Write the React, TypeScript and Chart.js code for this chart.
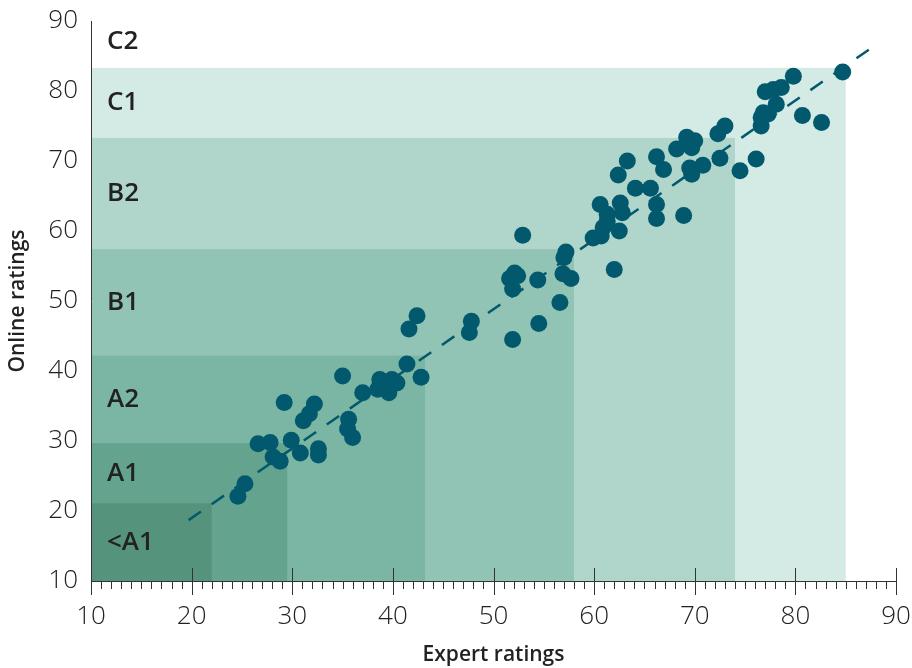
import React, { useEffect, useRef } from "react";
import { Chart, registerables } from "chart.js";

Chart.register(...registerables);

const expertRatings = [
  24.6, 25.3, 26.6, 27.8, 28.1, 28.8, 29.2, 29.9, 30.8, 32.6, 32.6, 31.1, 31.7, 32.2,
  35.0, 35.6, 35.5, 36.0, 37.0, 38.5, 38.7, 39.6, 39.9, 40.4, 41.4, 42.8, 42.4, 41.6,
  47.8, 47.6, 51.9, 54.5, 56.6, 52.9, 52.1, 51.6, 52.4, 51.9, 54.4, 57.2, 57.0, 56.9,
  57.7, 59.9, 62.0, 60.7, 60.9, 61.3, 61.3, 60.6, 62.6, 62.8, 62.5, 62.4, 63.3, 64.1,
  65.6, 66.2, 66.2, 66.2, 66.9, 68.9, 68.2, 69.2, 70.0, 69.7, 69.5, 69.7, 70.8, 72.5,
  72.3, 73.0, 74.5, 76.1, 76.6, 76.6, 77.0, 77.8, 78.6, 79.8, 78.1, 76.8, 77.3, 80.7,
  82.6, 84.7,
];
const onlineRatings = [
  22.1, 23.9, 29.6, 29.8, 27.7, 27.1, 35.5, 30.1, 28.3, 28.9, 28.0, 32.9, 33.9, 35.3,
  39.3, 33.1, 31.7, 30.5, 36.9, 37.4, 38.8, 36.9, 38.8, 38.3, 41.0, 39.1, 47.9, 46.0,
  47.1, 45.5, 44.5, 46.8, 49.8, 59.4, 54.0, 53.2, 53.6, 51.7, 53.0, 57.0, 56.2, 53.9,
  53.2, 59.0, 54.5, 59.3, 60.5, 61.4, 62.4, 63.8, 64.0, 62.6, 60.0, 68.0, 70.0, 66.1,
  66.1, 63.8, 61.8, 70.6, 68.8, 62.2, 71.7, 73.4, 72.9, 71.9, 69.0, 68.1, 69.4, 70.4,
  73.9, 75.0, 68.6, 70.3, 75.0, 76.2, 79.9, 80.2, 80.5, 82.1, 78.1, 76.9, 76.7, 76.5,
  75.5, 82.7,
];

const trendX = [19.7, 87.4];
const trendY = [18.7, 86.0];

const levelNames = ["<A1", "A1", "A2", "B1", "B2", "C1", "C2"];
const expertCuts = [22.0, 29.5, 43.2, 58.0, 74.0, 85.0];
const onlineCuts = [21.1, 29.7, 42.2, 57.4, 73.3, 83.3];
const bandColors = ["#55937c", "#64a48e", "#7ab6a3", "#91c4b4", "#b0d6cc", "#d4eae5"];

const axisTicks = [10, 20, 30, 40, 50, 60, 70, 80, 90];

const AXIS_MIN = 10;
const AXIS_MAX = 90;
const FONT = "'Open Sans', 'DejaVu Sans', sans-serif";

const bandsPlugin = {
  id: "bands",
  beforeDraw(chart: any) {
    const { ctx } = chart;
    const xs = chart.scales.x;
    const ys = chart.scales.y;
    const x0 = xs.getPixelForValue(AXIS_MIN);
    const y0 = ys.getPixelForValue(AXIS_MIN);
    ctx.save();
    for (let i = expertCuts.length - 1; i >= 0; i--) {
      const x1 = xs.getPixelForValue(expertCuts[i]);
      const y1 = ys.getPixelForValue(onlineCuts[i]);
      ctx.fillStyle = bandColors[i];
      ctx.fillRect(x0, y1, x1 - x0, y0 - y1);
    }
    ctx.fillStyle = "#222222";
    ctx.font = `600 26px ${FONT}`;
    ctx.textAlign = "left";
    ctx.textBaseline = "middle";
    for (let i = 0; i < levelNames.length; i++) {
      const lo = i === 0 ? AXIS_MIN : onlineCuts[i - 1];
      const hi = i < onlineCuts.length ? onlineCuts[i] : AXIS_MAX + 0.8;
      const yc = ys.getPixelForValue((lo + hi) / 2);
      ctx.fillText(levelNames[i], x0 + 16, yc);
    }
    ctx.restore();
  },
  afterDraw(chart: any) {
    const { ctx } = chart;
    const xs = chart.scales.x;
    const ys = chart.scales.y;
    const yAxis = ys.getPixelForValue(AXIS_MIN);
    ctx.save();
    ctx.strokeStyle = "#333333";
    ctx.lineWidth = 1;
    for (let v = AXIS_MIN; v <= AXIS_MAX; v++) {
      const px = Math.round(xs.getPixelForValue(v)) + 0.5;
      ctx.beginPath();
      if (v % 10 === 0) {
        ctx.moveTo(px, yAxis - 13);
        ctx.lineTo(px, yAxis + 14);
      } else {
        ctx.moveTo(px, yAxis);
        ctx.lineTo(px, yAxis + 8);
      }
      ctx.stroke();
    }
    ctx.restore();
  },
};

function zeroPadding(s: any) {
  s.paddingLeft = 0;
  s.paddingRight = 0;
  s.paddingTop = 0;
  s.paddingBottom = 0;
}

export default function App() {
  const ref = useRef<HTMLCanvasElement>(null);
  useEffect(() => {
    if (!ref.current) return;
    const points = expertRatings.map((x, i) => ({ x, y: onlineRatings[i] }));
    const trend = trendX.map((x, i) => ({ x, y: trendY[i] }));
    const chart = new Chart(ref.current, {
      type: "scatter",
      data: {
        datasets: [
          {
            type: "scatter",
            data: points,
            backgroundColor: "#02596d",
            borderWidth: 0,
            pointRadius: 8.5,
            pointHoverRadius: 8.5,
            order: 0,
          },
          {
            type: "line",
            data: trend,
            borderColor: "#02596d",
            borderWidth: 2.5,
            borderDash: [15, 13],
            pointRadius: 0,
            fill: false,
            order: 1,
          } as any,
        ],
      },
      options: {
        animation: false,
        responsive: false,
        events: [],
        layout: { padding: { top: 21, right: 16, left: 0, bottom: 0 } },
        plugins: { legend: { display: false }, tooltip: { enabled: false } },
        scales: {
          x: {
            type: "linear",
            min: AXIS_MIN,
            max: AXIS_MAX,
            afterBuildTicks: (s: any) => {
              s.ticks = axisTicks.map((v) => ({ value: v }));
            },
            afterFit: (s: any) => {
              s.height = 87;
              zeroPadding(s);
            },
            grid: { display: false, drawTicks: false },
            border: { display: true, color: "#333333", width: 1 },
            ticks: {
              color: "#222222",
              font: { family: FONT, size: 26, weight: "300" },
              padding: 20,
              maxRotation: 0,
            },
            title: {
              display: true,
              text: "Expert ratings",
              color: "#222222",
              font: { family: FONT, size: 21, weight: "600" },
              padding: { top: 0, bottom: 0 },
            },
          },
          y: {
            type: "linear",
            min: AXIS_MIN,
            max: AXIS_MAX,
            afterBuildTicks: (s: any) => {
              s.ticks = axisTicks.map((v) => ({ value: v }));
            },
            afterFit: (s: any) => {
              s.width = 91;
              zeroPadding(s);
            },
            grid: { display: false, drawTicks: false },
            border: { display: true, color: "#333333", width: 1 },
            ticks: {
              color: "#222222",
              font: { family: FONT, size: 26, weight: "300" },
              padding: 13,
            },
            title: {
              display: true,
              text: "Online ratings",
              color: "#222222",
              font: { family: FONT, size: 21, weight: "600" },
              padding: { top: 5, bottom: 0 },
            },
          },
        },
      },
      plugins: [bandsPlugin],
    });
    return () => chart.destroy();
  }, []);
  return (
    <div style={{ position: "absolute", left: 0, top: 0, width: 912, height: 668 }}>
      <canvas ref={ref} width={912} height={668} />
    </div>
  );
}
